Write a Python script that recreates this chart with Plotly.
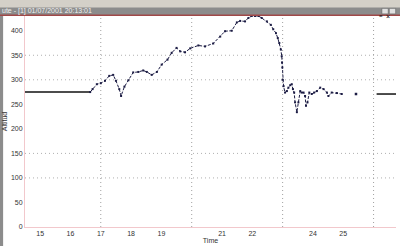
import plotly.graph_objects as go

# ---- data ----
left_flat_x = [14.5, 16.65]
left_flat_y = [275, 275]

curve_x = [16.65, 16.73, 16.87, 17.0, 17.14, 17.28, 17.41, 17.5, 17.61, 17.67, 17.78, 17.91,
           18.07, 18.24, 18.4, 18.52, 18.68, 18.85, 19.01, 19.2, 19.34, 19.5, 19.62, 19.78,
           19.95, 20.22, 20.44, 20.71, 20.94, 21.1, 21.32, 21.49, 21.6, 21.76, 21.87, 21.98,
           22.09, 22.2, 22.31, 22.48, 22.61, 22.69, 22.78, 22.84, 22.89, 22.94, 22.97, 22.98,
           22.99, 23.0, 23.03, 23.08, 23.14, 23.19, 23.25, 23.3, 23.34, 23.38, 23.41, 23.47,
           23.52, 23.58, 23.63, 23.69, 23.74, 23.77, 23.82, 23.88, 23.96, 24.04, 24.13, 24.24,
           24.35, 24.46, 24.51, 24.62, 24.79, 24.95]
curve_y = [275, 281, 291, 293, 298, 308, 310, 298, 281, 267, 286, 299,
           315, 316, 319, 316, 310, 316, 331, 341, 355, 365, 358, 356,
           364, 370, 368, 374, 388, 399, 400, 417, 420, 419, 426, 430,
           430, 430, 426, 419, 412, 403, 395, 385, 375, 362, 348, 335,
           325, 300, 287, 274, 277, 284, 289, 291, 281, 274, 254, 234,
           254, 277, 274, 274, 267, 247, 254, 274, 271, 274, 277, 284,
           281, 274, 267, 274, 273, 271]

dot_x = [25.42]
dot_y = [271]

right_flat_x = [26.1, 26.74]
right_flat_y = [271, 271]

x_ticks = [15, 16, 17, 18, 19, 21, 22, 24, 25]
y_ticks = [0, 50, 100, 150, 200, 250, 300, 350, 400]
h_grid = [100, 150, 300, 350]
v_grid = [17, 20, 23, 26]

title_text = "ute - [1] 01/07/2001 20:13:01"

FONT = "Liberation Sans"
NAVY = "#1c1c44"

fig = go.Figure()
fig.add_trace(go.Scatter(x=left_flat_x, y=left_flat_y, mode="lines",
                         line=dict(color="#111111", width=1.5), showlegend=False))
fig.add_trace(go.Scatter(x=curve_x, y=curve_y, mode="lines+markers",
                         line=dict(color=NAVY, width=1, dash="3px,1.5px"),
                         marker=dict(symbol="square", size=2, color=NAVY),
                         showlegend=False))
fig.add_trace(go.Scatter(x=dot_x, y=dot_y, mode="markers",
                         marker=dict(symbol="square", size=2.5, color=NAVY), showlegend=False))
fig.add_trace(go.Scatter(x=right_flat_x, y=right_flat_y, mode="lines",
                         line=dict(color="#111111", width=1.5), showlegend=False))

shapes = []
for v in h_grid:
    shapes.append(dict(type="line", xref="paper", x0=0, x1=1, yref="y", y0=v, y1=v,
                       line=dict(color="#b0b0b0", width=1, dash="1px,3px"), layer="below"))
for v in v_grid:
    shapes.append(dict(type="line", xref="x", x0=v, x1=v, yref="paper", y0=0, y1=1,
                       line=dict(color="#a0a0a0", width=1, dash="1px,3px"), layer="below"))
# window chrome
shapes += [
    dict(type="rect", xref="paper", yref="paper", x0=-0.1, x1=1.1, y0=1.0, y1=1.2,
         fillcolor="#d4d0c8", line=dict(width=0), layer="above"),
    dict(type="rect", xref="paper", yref="paper", x0=-0.1, x1=1.1, y0=1.004, y1=1.04,
         fillcolor="#8c8c8c", line=dict(width=0), layer="above"),
    dict(type="line", xref="paper", yref="paper", x0=-0.1, x1=1.1, y0=1.004, y1=1.004,
         line=dict(color="#a04848", width=1.5), layer="above"),
    dict(type="rect", xref="paper", yref="paper", x0=-0.09, x1=-0.059, y0=-0.2, y1=1.0,
         fillcolor="#8c8c8c", line=dict(width=0), layer="above"),
    dict(type="rect", xref="paper", yref="paper", x0=0.962, x1=0.979, y0=1.01, y1=1.036,
         fillcolor="#e0e0e0", line=dict(color="#555", width=0.5), layer="above"),
    dict(type="rect", xref="paper", yref="paper", x0=0.982, x1=0.999, y0=1.01, y1=1.036,
         fillcolor="#e0e0e0", line=dict(color="#555", width=0.5), layer="above"),
]

annotations = [
    dict(text=title_text, xref="paper", yref="paper", x=-0.068, y=1.022, xanchor="left",
         yanchor="middle", showarrow=False, font=dict(family=FONT, size=7, color="#f0f0f0")),
    dict(text="×", xref="paper", yref="paper", x=0.9905, y=1.023, showarrow=False,
         font=dict(family=FONT, size=7, color="#000")),
    dict(text="=", xref="paper", yref="paper", x=0.9705, y=1.023, showarrow=False,
         font=dict(family=FONT, size=6, color="#000")),
]
fig.update_layout(
    width=400, height=246,
    margin=dict(l=25, r=4, t=16, b=17),
    paper_bgcolor="white", plot_bgcolor="white",
    shapes=shapes, annotations=annotations,
    xaxis=dict(range=[14.5, 26.74], tickvals=x_ticks, ticktext=[str(v) for v in x_ticks],
               showgrid=False, zeroline=False, showline=True, linecolor="#f2c8cc", linewidth=1,
               ticks="", tickfont=dict(family=FONT, size=7, color="#333"),
               title=dict(text="Time", font=dict(family=FONT, size=7, color="#333"), standoff=0)),
    yaxis=dict(range=[0, 430], tickvals=y_ticks, ticktext=[str(v) for v in y_ticks],
               showgrid=False, zeroline=False, showline=True, linecolor="#f2c8cc", linewidth=1,
               ticks="", tickfont=dict(family=FONT, size=7, color="#333"),
               title=dict(text="Altitud", font=dict(family=FONT, size=7, color="#333"), standoff=2)),
)

fig.write_html("out.html")
